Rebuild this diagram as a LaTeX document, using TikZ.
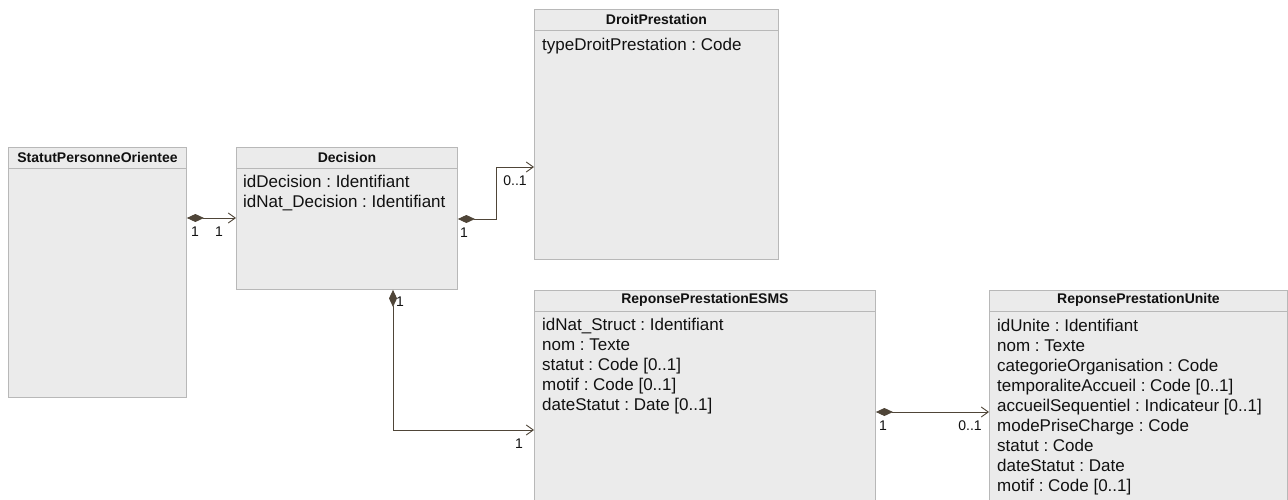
\documentclass[tikz,border=0pt]{standalone}
\usepackage{fontspec}
\setmainfont{Liberation Sans}
\frenchspacing
\usetikzlibrary{arrows.meta,calc}
\definecolor{boxfill}{HTML}{EBEBEB}
\definecolor{boxline}{HTML}{B8B8B8}
\definecolor{conn}{HTML}{4F4538}
\definecolor{txt}{HTML}{111111}
\begin{document}
\begin{tikzpicture}[x=1pt,y=-1pt,
  cls/.style={draw=boxline, fill=boxfill, line width=0.9pt, anchor=north west, inner sep=0pt},
  hdr/.style={font=\fontsize{14}{16}\selectfont\bfseries, text=txt, inner sep=0pt},
  attr/.style={font=\fontsize{17}{20}\selectfont\frenchspacing, anchor=north west, align=left, inner sep=0pt, text=txt},
  mult/.style={font=\fontsize{14}{16}\selectfont, text=txt, inner sep=0pt},
  sep/.style={draw=boxline, line width=0.9pt},
  assoc/.style={draw=conn, line width=0.9pt, {Diamond[length=17pt,width=8pt,fill=conn]}-{Straight Barb[length=7pt,width=10pt]}}]
\useasboundingbox (0,0) rectangle (1288,500);
\fill[white] (0,0) rectangle (1288,500);

% classes
\node[cls, minimum width=178pt, minimum height=250pt] (sp) at (8,147) {};
\node[cls, minimum width=221pt, minimum height=142pt] (dec) at (236,147) {};
\node[cls, minimum width=244pt, minimum height=250pt] (dp) at (534,9) {};
\node[cls, minimum width=341pt, minimum height=215pt] (esms) at (534,290) {};
\node[cls, minimum width=298pt, minimum height=215pt] (un) at (989,290) {};

% header separators
\draw[sep] ([yshift=-21pt]sp.north west) -- ([yshift=-21pt]sp.north east);
\draw[sep] ([yshift=-21pt]dec.north west) -- ([yshift=-21pt]dec.north east);
\draw[sep] ([yshift=-21pt]dp.north west) -- ([yshift=-21pt]dp.north east);
\draw[sep] ([yshift=-21pt]esms.north west) -- ([yshift=-21pt]esms.north east);
\draw[sep] ([yshift=-21pt]un.north west) -- ([yshift=-21pt]un.north east);

% titles
\node[hdr] (spT) at ($(sp.north)+(0,10)$) {StatutPersonneOrientee};
\node[hdr] (decT) at ($(dec.north)+(0,10)$) {Decision};
\node[hdr] (dpT) at ($(dp.north)+(0,10)$) {DroitPrestation};
\node[hdr] (esmsT) at ($(esms.north)+(0,10)$) {ReponsePrestationESMS};
\node[hdr] (unT) at ($(un.north)+(0,10)$) {ReponsePrestationUnite};

% attributes
\node[attr] (decA) at (243,175) {idDecision : Identifiant\\idNat\_Decision : Identifiant};
\node[attr] (dpA) at (542,38) {typeDroitPrestation : Code};
\node[attr] (esmsA) at (542,318) {idNat\_Struct : Identifiant\\nom : Texte\\statut : Code [0..1]\\motif : Code [0..1]\\dateStatut : Date [0..1]};
\node[attr] (unA) at (997,319) {idUnite : Identifiant\\nom : Texte\\categorieOrganisation : Code\\temporaliteAccueil : Code [0..1]\\accueilSequentiel : Indicateur [0..1]\\modePriseCharge : Code\\statut : Code\\dateStatut : Date\\motif : Code [0..1]};

% associations
\draw[assoc] ([yshift=-71pt]sp.north east) -- ([yshift=-71pt]dec.north west);
\draw[assoc] ([yshift=-72pt]dec.north east) -- ++(39,0) |- ([yshift=-158pt]dp.north west);
\draw[assoc] ([xshift=157pt]dec.south west) |- ([yshift=-140pt]esms.north west);
\draw[assoc] ([yshift=-122pt]esms.north east) -- ([yshift=-122pt]un.north west);

% multiplicities
\node[mult] (m1) at (195,232) {1};
\node[mult] (m2) at (219,232) {1};
\node[mult] (m3) at (464,233) {1};
\node[mult] (m4) at (515,181) {0..1};
\node[mult] (m5) at (400,302) {1};
\node[mult] (m6) at (519,444) {1};
\node[mult] (m7) at (883,426) {1};
\node[mult] (m8) at (970,426) {0..1};
\end{tikzpicture}
\end{document}
